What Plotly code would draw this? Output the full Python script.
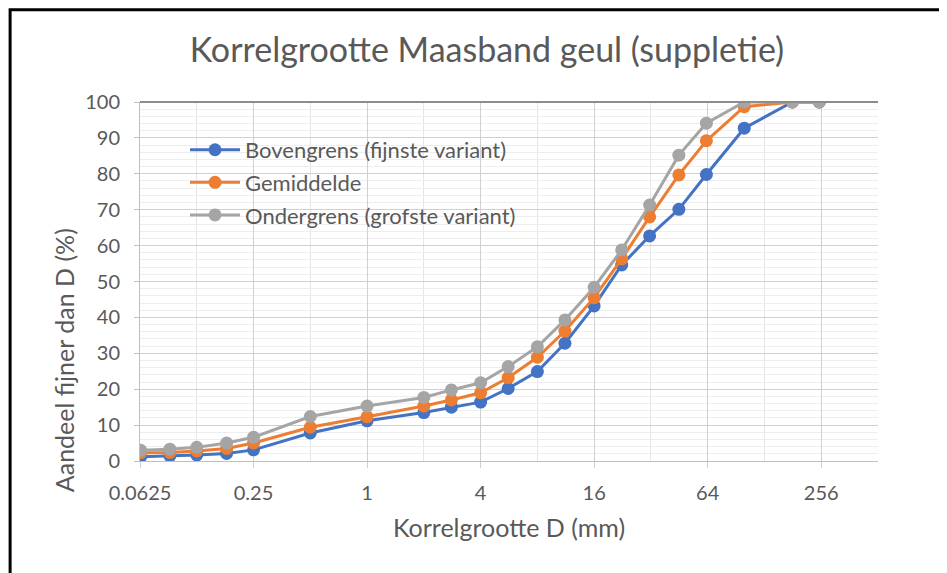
import plotly.graph_objects as go

# zeefmaten (mm)
korrel = [0.063, 0.09, 0.125, 0.18, 0.25, 0.5, 1, 2, 2.8, 4, 5.6, 8, 11.2,
          16, 22.4, 31.5, 45, 63, 100, 180, 250]
bovengrens = [1.2, 1.4, 1.7, 2.1, 3.1, 7.8, 11.2, 13.5, 15.0, 16.4, 20.2, 24.9,
              32.8, 43.2, 54.6, 62.7, 70.1, 79.8, 92.7, 100, 100]
gemiddelde = [2.3, 2.4, 2.8, 3.5, 5.0, 9.4, 12.3, 15.3, 17.0, 19.0, 23.2, 28.9,
              36.2, 45.5, 56.3, 68.0, 79.7, 89.2, 98.7, 100, 100]
ondergrens = [3.0, 3.3, 3.8, 5.0, 6.6, 12.4, 15.3, 17.7, 19.8, 21.8, 26.3, 31.8,
              39.3, 48.4, 58.8, 71.3, 85.2, 94.1, 100, 100, 100]

namen = ["Bovengrens (fijnste variant)", "Gemiddelde", "Ondergrens (grofste variant)"]
kleuren = ["#4472C4", "#ED7D31", "#A5A5A5"]

x_ticks = [0.0625, 0.25, 1, 4, 16, 64, 256]
x_minor = [0.125, 0.5, 2, 8, 32, 128, 512]

font = "Lato, Open Sans, sans-serif"
grijs = "#595959"

fig = go.Figure()
for naam, y, kleur, i in zip(namen, [bovengrens, gemiddelde, ondergrens], kleuren, range(3)):
    fig.add_trace(go.Scatter(x=korrel, y=y, name=naam, mode='lines+markers',
                             line=dict(color=kleur, width=3),
                             marker=dict(color=kleur, size=13),
                             legendgroup=str(i)))

# de pagina heeft 8px body-marge, daarom iets kleiner en verschoven
fig.update_layout(
    width=939, height=565,
    margin=dict(l=132, r=69, t=94, b=112),
    paper_bgcolor='white', plot_bgcolor='white',
    font=dict(family=font, color=grijs, size=17),
    title=dict(text="Korrelgrootte Maasband geul (suppletie)", x=0.51, xanchor='center',
               y=0.925, yanchor='middle', font=dict(size=34, color=grijs)),
    legend=dict(x=0.061, y=0.925, xanchor='left', yanchor='top', bgcolor='rgba(0,0,0,0)',
                font=dict(size=22, color=grijs), tracegroupgap=1, itemwidth=50),
    showlegend=True,
)

fig.update_xaxes(type='log', range=[-1.20412, 2.70927], automargin=False,
                 tickvals=x_ticks, ticktext=["0.0625", "0.25", "1", "4", "16", "64", "256"],
                 showgrid=True, gridcolor='#D0D0D0', gridwidth=1,
                 ticks='outside', ticklen=6, tickcolor='#D0D0D0',
                 minor=dict(tickvals=x_minor, showgrid=True, gridcolor='#E6E6E6', ticks=''),
                 showline=True, linecolor='#BFBFBF', linewidth=1, zeroline=False,
                 tickfont=dict(size=20, color=grijs), ticklabelstandoff=8,
                 title=dict(text="Korrelgrootte D (mm)", font=dict(size=25, color=grijs), standoff=16))

fig.update_yaxes(range=[0, 100], dtick=10, showgrid=True, gridcolor='#D0D0D0', gridwidth=1,
                 automargin=False,
                 minor=dict(dtick=2, showgrid=True, gridcolor='#EEEEEE'),
                 ticks='outside', ticklen=5, tickcolor='#BFBFBF',
                 showline=True, linecolor='#BFBFBF', linewidth=1, zeroline=False,
                 tickfont=dict(size=20, color=grijs), ticklabelstandoff=10)

# y-as titel staat in het origineel iets naar beneden verschoven
fig.add_annotation(text="Aandeel fijner dan D (%)", xref='paper', yref='paper',
                   x=-0.102, y=0.28, textangle=-90, showarrow=False,
                   xanchor='center', yanchor='middle', font=dict(size=25, color=grijs))

# bovenrand van het grafiekgebied
fig.add_shape(type='line', xref='paper', yref='paper', x0=0, x1=1, y0=1, y1=1,
              line=dict(color='#8C8C8C', width=2))
# zwart kader rond de afbeelding
fig.add_shape(type='rect', xref='paper', yref='paper', x0=-0.176, x1=1.5, y0=-0.5, y1=1.257,
              line=dict(color='black', width=3), layer='above')

fig.write_html("out.html")
